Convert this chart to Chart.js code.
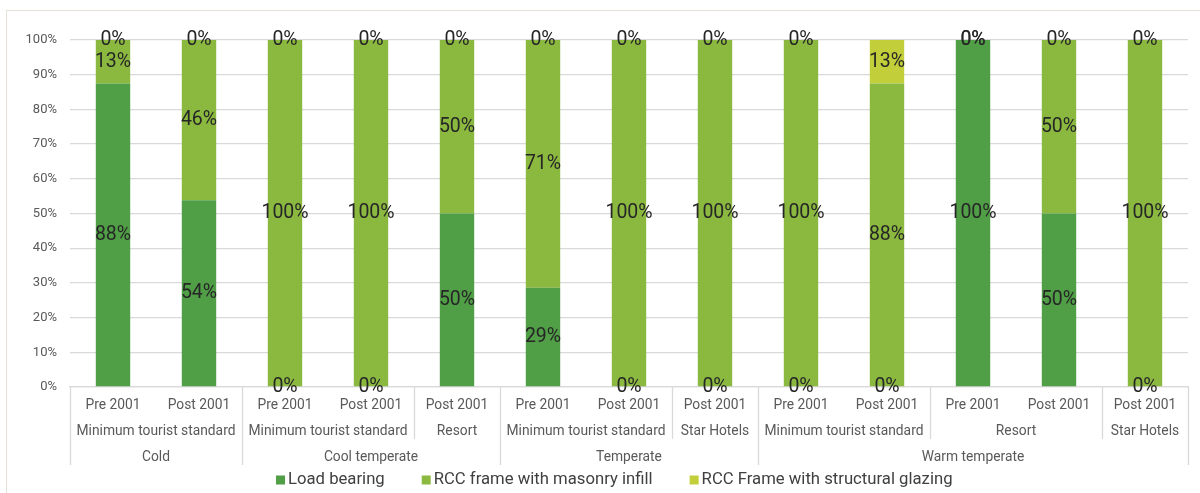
<!DOCTYPE html>
<html>
<head>
<meta charset="utf-8">
<script src="https://cdn.jsdelivr.net/npm/chart.js@4.4.1/dist/chart.umd.min.js"></script>
<style>
    html, body { margin: 0; padding: 0; background: #fff; overflow: hidden; }
    #frame { position: absolute; left: 6px; top: 10px; width: 1300px; height: 600px; border: 1px solid #e4e0d6; }
    #wrap { position: absolute; left: 0; top: 0; width: 1200px; height: 493px; }
</style>
</head>
<body>
<div id="frame"></div>
<div id="wrap"><canvas id="chart"></canvas></div>
<script>
// three-level category axis: climate zone > hotel type > construction period
const climateZones = [
    'Cold', 'Cold',
    'Cool temperate', 'Cool temperate', 'Cool temperate',
    'Temperate', 'Temperate', 'Temperate',
    'Warm temperate', 'Warm temperate', 'Warm temperate', 'Warm temperate', 'Warm temperate'
];
const hotelTypes = [
    'Minimum tourist standard', 'Minimum tourist standard',
    'Minimum tourist standard', 'Minimum tourist standard', 'Resort',
    'Minimum tourist standard', 'Minimum tourist standard', 'Star Hotels',
    'Minimum tourist standard', 'Minimum tourist standard', 'Resort', 'Resort', 'Star Hotels'
];
const periods = [
    'Pre 2001', 'Post 2001',
    'Pre 2001', 'Post 2001', 'Post 2001',
    'Pre 2001', 'Post 2001', 'Post 2001',
    'Pre 2001', 'Post 2001', 'Pre 2001', 'Post 2001', 'Post 2001'
];

// share of buildings per structural system (%)
const loadBearing       = [87.5, 53.8, 0, 0, 50, 28.6, 0, 0, 0, 0, 100, 50, 0];
const masonryInfill     = [12.5, 46.2, 100, 100, 50, 71.4, 100, 100, 100, 87.5, 0, 50, 100];
const structuralGlazing = [0, 0, 0, 0, 0, 0, 0, 0, 0, 12.5, 0, 0, 0];

const seriesNames = ['Load bearing', 'RCC frame with masonry infill', 'RCC Frame with structural glazing'];
const seriesColors = ['#509e46', '#8bb940', '#c2cf3a'];

const FONT = 'Roboto';
const AXIS_TEXT = '#595959';
const LINE = '#d9d9d9';

Chart.defaults.font.family = FONT;

// percentage text centred on every segment (zero segments sit on their stack edge)
const segmentLabels = {
    id: 'segmentLabels',
    afterDatasetsDraw(chart) {
        const ctx = chart.ctx;
        ctx.save();
        ctx.font = `19.5px ${FONT}`;
        ctx.fillStyle = '#262626';
        ctx.textAlign = 'center';
        ctx.textBaseline = 'middle';
        chart.data.datasets.forEach((ds, i) => {
            chart.getDatasetMeta(i).data.forEach((bar, j) => {
                ctx.fillText(Math.round(ds.data[j]) + '%', bar.x, (bar.y + bar.base) / 2);
            });
        });
        ctx.restore();
    }
};

// group runs of equal consecutive keys
function runs(keys) {
    const out = [];
    keys.forEach((k, i) => {
        const last = out[out.length - 1];
        if (last && last.key === k) last.end = i;
        else out.push({ key: k, start: i, end: i });
    });
    return out;
}

const groupAxis = {
    id: 'groupAxis',
    afterDraw(chart) {
        const { ctx, chartArea } = chart;
        const x = chart.scales.x;
        const n = periods.length;
        const step = x.getPixelForValue(1) - x.getPixelForValue(0);
        const edge = i => x.getPixelForValue(i) - step / 2;
        const top = chartArea.bottom;

        ctx.save();
        ctx.strokeStyle = LINE;
        ctx.lineWidth = 1.3;
        const typeKeys = hotelTypes.map((t, i) => climateZones[i] + '|' + t);
        for (let b = 0; b <= n; b++) {
            let depth = 0;
            if (b === 0 || b === n || climateZones[b] !== climateZones[b - 1]) depth = 78;
            else if (typeKeys[b] !== typeKeys[b - 1]) depth = 52;
            if (!depth) continue;
            const px = Math.round(edge(b)) + 0.5;
            ctx.beginPath();
            ctx.moveTo(px, top);
            ctx.lineTo(px, top + depth);
            ctx.stroke();
        }

        ctx.fillStyle = AXIS_TEXT;
        ctx.textAlign = 'center';
        ctx.textBaseline = 'middle';
        ctx.font = `13.8px ${FONT}`;
        periods.forEach((p, i) => ctx.fillText(p, x.getPixelForValue(i), top + 19));

        runs(typeKeys).forEach(r => {
            const cx = (edge(r.start) + edge(r.end + 1)) / 2;
            ctx.fillText(r.key.split('|')[1], cx, top + 45);
        });

        runs(climateZones).forEach(r => {
            const cx = (edge(r.start) + edge(r.end + 1)) / 2;
            ctx.fillText(r.key, cx, top + 71);
        });

        // legend
        ctx.font = `16.7px ${FONT}`;
        ctx.textAlign = 'left';
        let lx = 276;
        const ly = 480;
        chart.data.datasets.forEach(ds => {
            ctx.fillStyle = ds.backgroundColor;
            ctx.fillRect(lx, ly - 4.5, 9, 9);
            ctx.fillStyle = '#404040';
            ctx.fillText(ds.label, lx + 12, ly);
            lx += 12 + ctx.measureText(ds.label).width + 37;
        });
        ctx.restore();
    }
};

new Chart(document.getElementById('chart'), {
    type: 'bar',
    data: {
        labels: periods,
        datasets: [loadBearing, masonryInfill, structuralGlazing].map((values, i) => ({
            label: seriesNames[i],
            data: values,
            backgroundColor: seriesColors[i],
            borderWidth: 0,
            barPercentage: 0.4,
            categoryPercentage: 1
        }))
    },
    options: {
        responsive: true,
        maintainAspectRatio: false,
        animation: false,
        layout: { padding: { top: 40, right: 12, bottom: 0, left: 0 } },
        plugins: {
            legend: { display: false },
            tooltip: { enabled: false }
        },
        scales: {
            x: {
                stacked: true,
                grid: { display: false },
                border: { color: LINE, width: 1.3 },
                ticks: { display: false },
                afterFit: scale => { scale.height = 106; }
            },
            y: {
                stacked: true,
                min: 0,
                max: 100,
                grid: { color: LINE, lineWidth: 1.3, drawTicks: false },
                border: { display: false },
                ticks: {
                    stepSize: 10,
                    padding: 13,
                    color: AXIS_TEXT,
                    font: { size: 13 },
                    callback: v => v + '%'
                },
                afterFit: scale => { scale.width = 70; }
            }
        }
    },
    plugins: [segmentLabels, groupAxis]
});
</script>
</body>
</html>
